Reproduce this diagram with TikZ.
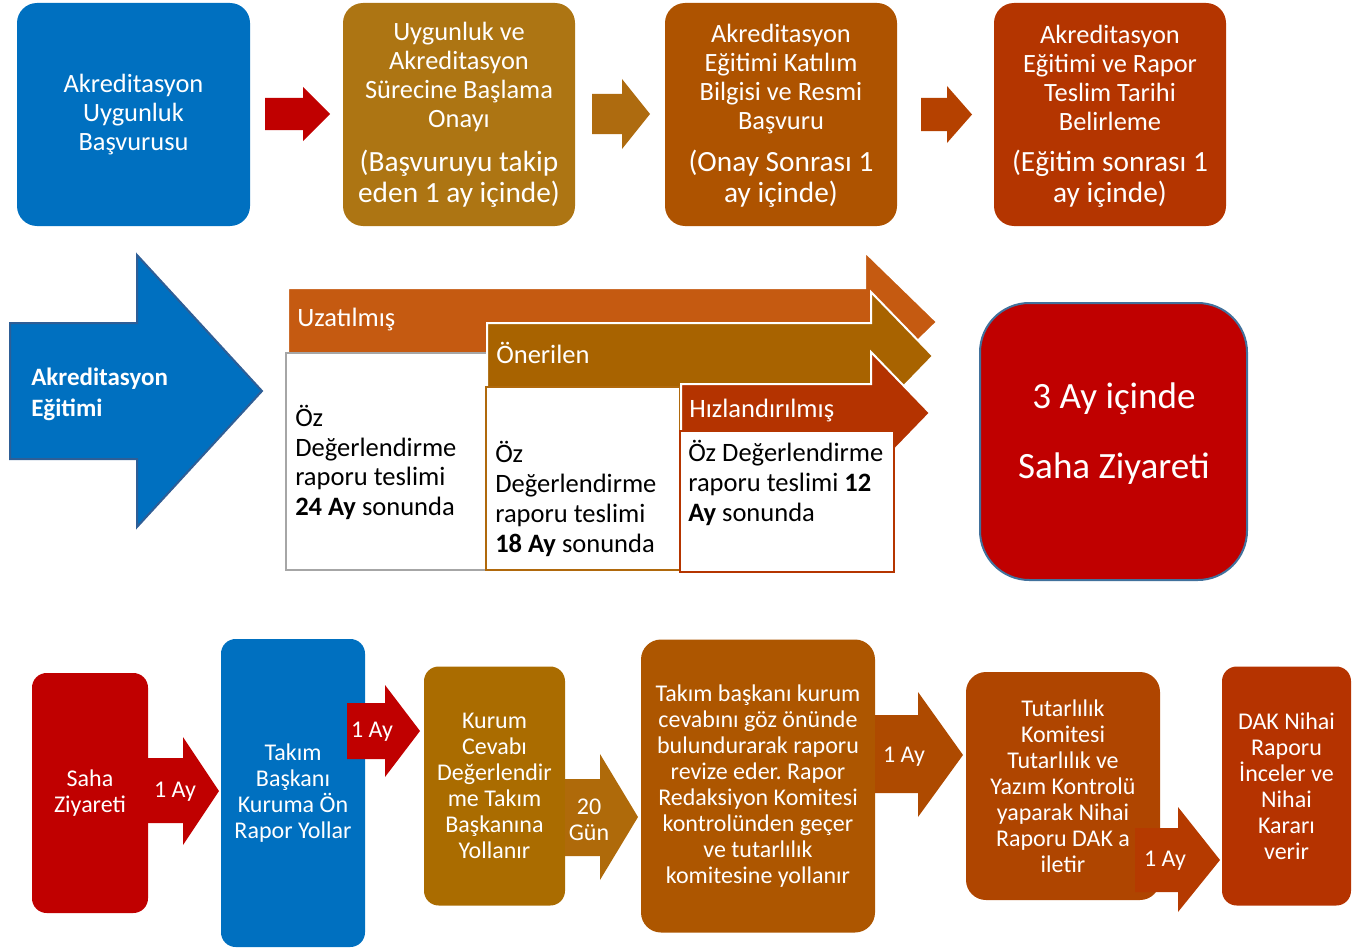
\documentclass[tikz,border=0pt]{standalone}
\usepackage{fontspec}
\setmainfont{Carlito}
\usetikzlibrary{positioning}
\frenchspacing
\definecolor{kblue}{HTML}{0070C0}
\definecolor{kred}{HTML}{C00000}
\definecolor{kgold}{HTML}{AD7513}
\definecolor{kkurum}{HTML}{AA6C00}
\definecolor{korange}{HTML}{AE5300}
\definecolor{ktakim}{HTML}{AD5600}
\definecolor{kbrick}{HTML}{B43500}
\definecolor{ktut}{HTML}{AF4500}
\definecolor{kdak}{HTML}{B53300}
\definecolor{oktwo}{HTML}{AE6B0F}
\definecolor{okthree}{HTML}{B54100}
\definecolor{okgun}{HTML}{AF6A0A}
\definecolor{okfour}{HTML}{AE4A00}
\definecolor{okfive}{HTML}{B53A00}
\definecolor{kuz}{HTML}{C55A11}
\definecolor{kon}{HTML}{A86300}
\definecolor{khiz}{HTML}{B43300}
\definecolor{kgray}{HTML}{A6A6A6}
\definecolor{konline}{HTML}{B0690C}
\definecolor{khizline}{HTML}{B53500}
\definecolor{kframe}{HTML}{41719C}
\definecolor{kbigline}{HTML}{2E5E96}
\newcommand\fsTop{\fontsize{19.8pt}{21.75pt}\selectfont}
\newcommand\fsPar{\fontsize{22pt}{23.25pt}\selectfont}
\newcommand\fsMid{\fontsize{19.9pt}{22.3pt}\selectfont}
\newcommand\fsEgt{\fontsize{18.75pt}{23.25pt}\selectfont\bfseries}
\newcommand\fsBig{\fontsize{27.8pt}{52.5pt}\selectfont}
\newcommand\fsBot{\fontsize{18pt}{19.5pt}\selectfont}
\tikzstyle{kutu}  = [rounded corners=15pt, inner sep=0pt, text=white, align=center]
\tikzstyle{etiket} = [inner sep=0pt, text=white, align=center]
\tikzstyle{bant}  = [draw=white, line width=1.5pt, line join=miter]
\tikzstyle{rapor} = [fill=white, line width=1.5pt, inner sep=0pt]

\begin{document}
\begin{tikzpicture}[x=0.75pt,y=-0.75pt,
			boy/.style n args={2}{minimum width=#1*0.75pt, minimum height=#2*0.75pt}]
		\useasboundingbox (0,0) rectangle (1371,949);

		% ust sira
		\node[kutu, fill=kblue, boy={233}{223}, font=\fsTop] (basvuru) at (133.5,114.5) {Akreditasyon\\Uygunluk\\Başvurusu};
		\node[kutu, fill=kgold, boy={232}{223}] (onay) at (459,114.5) {};
		\node[kutu, fill=korange, boy={232}{223}] (katilim) at (781,114.5) {};
		\node[kutu, fill=kbrick, boy={232}{223}] (teslim) at (1110,114.5) {};

		\node[etiket, font=\fsTop] (onaybas) at (459,77) {Uygunluk ve\\Akreditasyon\\Sürecine Başlama\\Onayı};
		\node[etiket, font=\fsPar] (onaysure) at (459,178.5) {(Başvuruyu takip\\eden 1 ay içinde)};
		\node[etiket, font=\fsTop] (katilimbas) at (781,79) {Akreditasyon\\Eğitimi Katılım\\Bilgisi ve Resmi\\Başvuru};
		\node[etiket, font=\fsPar] (katilimsure) at (781,178.5) {(Onay Sonrası 1\\ay içinde)};
		\node[etiket, font=\fsTop] (teslimbas) at (1110,78) {Akreditasyon\\Eğitimi ve Rapor\\Teslim Tarihi\\Belirleme};
		\node[etiket, font=\fsPar] (teslimsure) at (1110,179) {(Eğitim sonrası 1\\ay içinde)};

		\fill[kred] (265,98) -- (303,98) -- (303,87) -- (330,114) -- (303,141) -- (303,130) -- (265,130) -- cycle;
		\fill[oktwo] (592,94) -- (622,94) -- (622,79) -- (650,114) -- (622,149) -- (622,134) -- (592,134) -- cycle;
		\fill[okthree] (921,98) -- (947,98) -- (947,86) -- (972,114.5) -- (947,143) -- (947,131) -- (921,131) -- cycle;

		% orta sira
		\draw[fill=kblue, draw=kbigline, line width=1.5pt, line join=miter] (10,323) -- (137,323) -- (137,255) -- (262,391) -- (137,527) -- (137,459) -- (10,459) -- cycle;
		\node[etiket, font=\fsEgt, align=left, anchor=west] (egitim) at (31,394.5) {Akreditasyon\\Eğitimi};

		\draw[bant, fill=kuz] (288,288) -- (865,288) -- (865,252) -- (937,322) -- (865,392) -- (865,353) -- (288,353) -- cycle;
		\node[rapor, draw=kgray, boy={201}{217}] (uzkutu) at (386.5,461.5) {};
		\draw[bant, fill=kon] (487,323) -- (871,323) -- (871,292) -- (933,356) -- (871,420) -- (871,387) -- (487,387) -- cycle;
		\node[rapor, draw=konline, boy={194}{183}] (onkutu) at (583,478.5) {};
		\draw[bant, fill=khiz] (681,384) -- (871,384) -- (871,352) -- (930,413) -- (871,474) -- (871,442) -- (681,442) -- cycle;
		\node[rapor, draw=khizline, boy={214}{141}] (hizkutu) at (787,501.5) {};

		\node[etiket, font=\fsMid, anchor=west] (uzad) at (297,320) {Uzatılmış};
		\node[etiket, font=\fsMid, anchor=west] (onad) at (496,353) {Önerilen};
		\node[etiket, font=\fsMid, anchor=west] (hizad) at (689,411) {Hızlandırılmış};

		\node[font=\fsMid, align=left, anchor=west, inner sep=0pt] (uzmetin) at (295,462.5) {Öz\\Değerlendirme\\raporu teslimi\\\textbf{24 Ay} sonunda};
		\node[font=\fsMid, align=left, anchor=west, inner sep=0pt] (onmetin) at (495,499) {Öz\\Değerlendirme\\raporu teslimi\\\textbf{18 Ay} sonunda};
		\node[font=\fsMid, align=left, anchor=west, inner sep=0pt] (hizmetin) at (688,483) {Öz Değerlendirme\\raporu teslimi \textbf{12}\\\textbf{Ay} sonunda};

		\node[kutu, fill=kred, draw=kframe, line width=1.5pt, rounded corners=37pt, boy={267}{277}] (ziyaret) at (1113.5,441.5) {};
		\node[etiket, font=\fsBig] (ziyaretmetin) at (1114,434) {3 Ay içinde\\Saha Ziyareti};

		% alt sira
		\node[kutu, fill=kred, rounded corners=11pt, boy={116}{240}, font=\fsBot] (saha) at (90,793) {Saha\\Ziyareti};
		\node[kutu, fill=kblue, rounded corners=11pt, boy={144}{308}, font=\fsBot] (onrapor) at (293,793) {Takım\\Başkanı\\Kuruma Ön\\Rapor Yollar};
		\node[kutu, fill=kkurum, rounded corners=11pt, boy={141}{239}, font=\fsBot] (cevap) at (494.5,786) {Kurum\\Cevabı\\Değerlendir\\me Takım\\Başkanına\\Yollanır};
		\node[kutu, fill=ktakim, rounded corners=15pt, boy={234}{293}, font=\fsBot] (revize) at (758,786) {Takım başkanı kurum\\cevabını göz önünde\\bulundurarak raporu\\revize eder. Rapor\\Redaksiyon Komitesi\\kontrolünden geçer\\ve tutarlılık\\komitesine yollanır};
		\node[kutu, fill=ktut, rounded corners=15pt, boy={194}{228}, font=\fsBot] (tutarlilik) at (1063,786) {Tutarlılık\\Komitesi\\Tutarlılık ve\\Yazım Kontrolü\\yaparak Nihai\\Raporu DAK a\\iletir};
		\node[kutu, fill=kdak, rounded corners=11pt, boy={129}{239}, font=\fsBot] (dak) at (1286.5,786) {DAK Nihai\\Raporu\\İnceler ve\\Nihai\\Kararı\\verir};

		\fill[kred] (147,758) -- (183,758) -- (183,737) -- (219,791) -- (183,845) -- (183,823) -- (147,823) -- cycle;
		\fill[kred] (347,703) -- (385,703) -- (385,685) -- (420,731) -- (385,777) -- (385,759) -- (347,759) -- cycle;
		\fill[okgun] (565,779) -- (600,779) -- (600,754) -- (638,817) -- (600,880) -- (600,856) -- (565,856) -- cycle;
		\fill[okfour] (875,715) -- (918,715) -- (918,692) -- (963,755) -- (918,817) -- (918,793) -- (875,793) -- cycle;
		\fill[okfive] (1135,828) -- (1178,828) -- (1178,807) -- (1220,860) -- (1178,912) -- (1178,892) -- (1135,892) -- cycle;

		\node[etiket, font=\fsBot] (ay1) at (175,792) {1 Ay};
		\node[etiket, font=\fsBot] (ay2) at (372,732) {1 Ay};
		\node[etiket, font=\fsBot] (gun) at (589,820) {20\\Gün};
		\node[etiket, font=\fsBot] (ay3) at (904,757) {1 Ay};
		\node[etiket, font=\fsBot] (ay4) at (1165,861) {1 Ay};
	\end{tikzpicture}
\end{document}
